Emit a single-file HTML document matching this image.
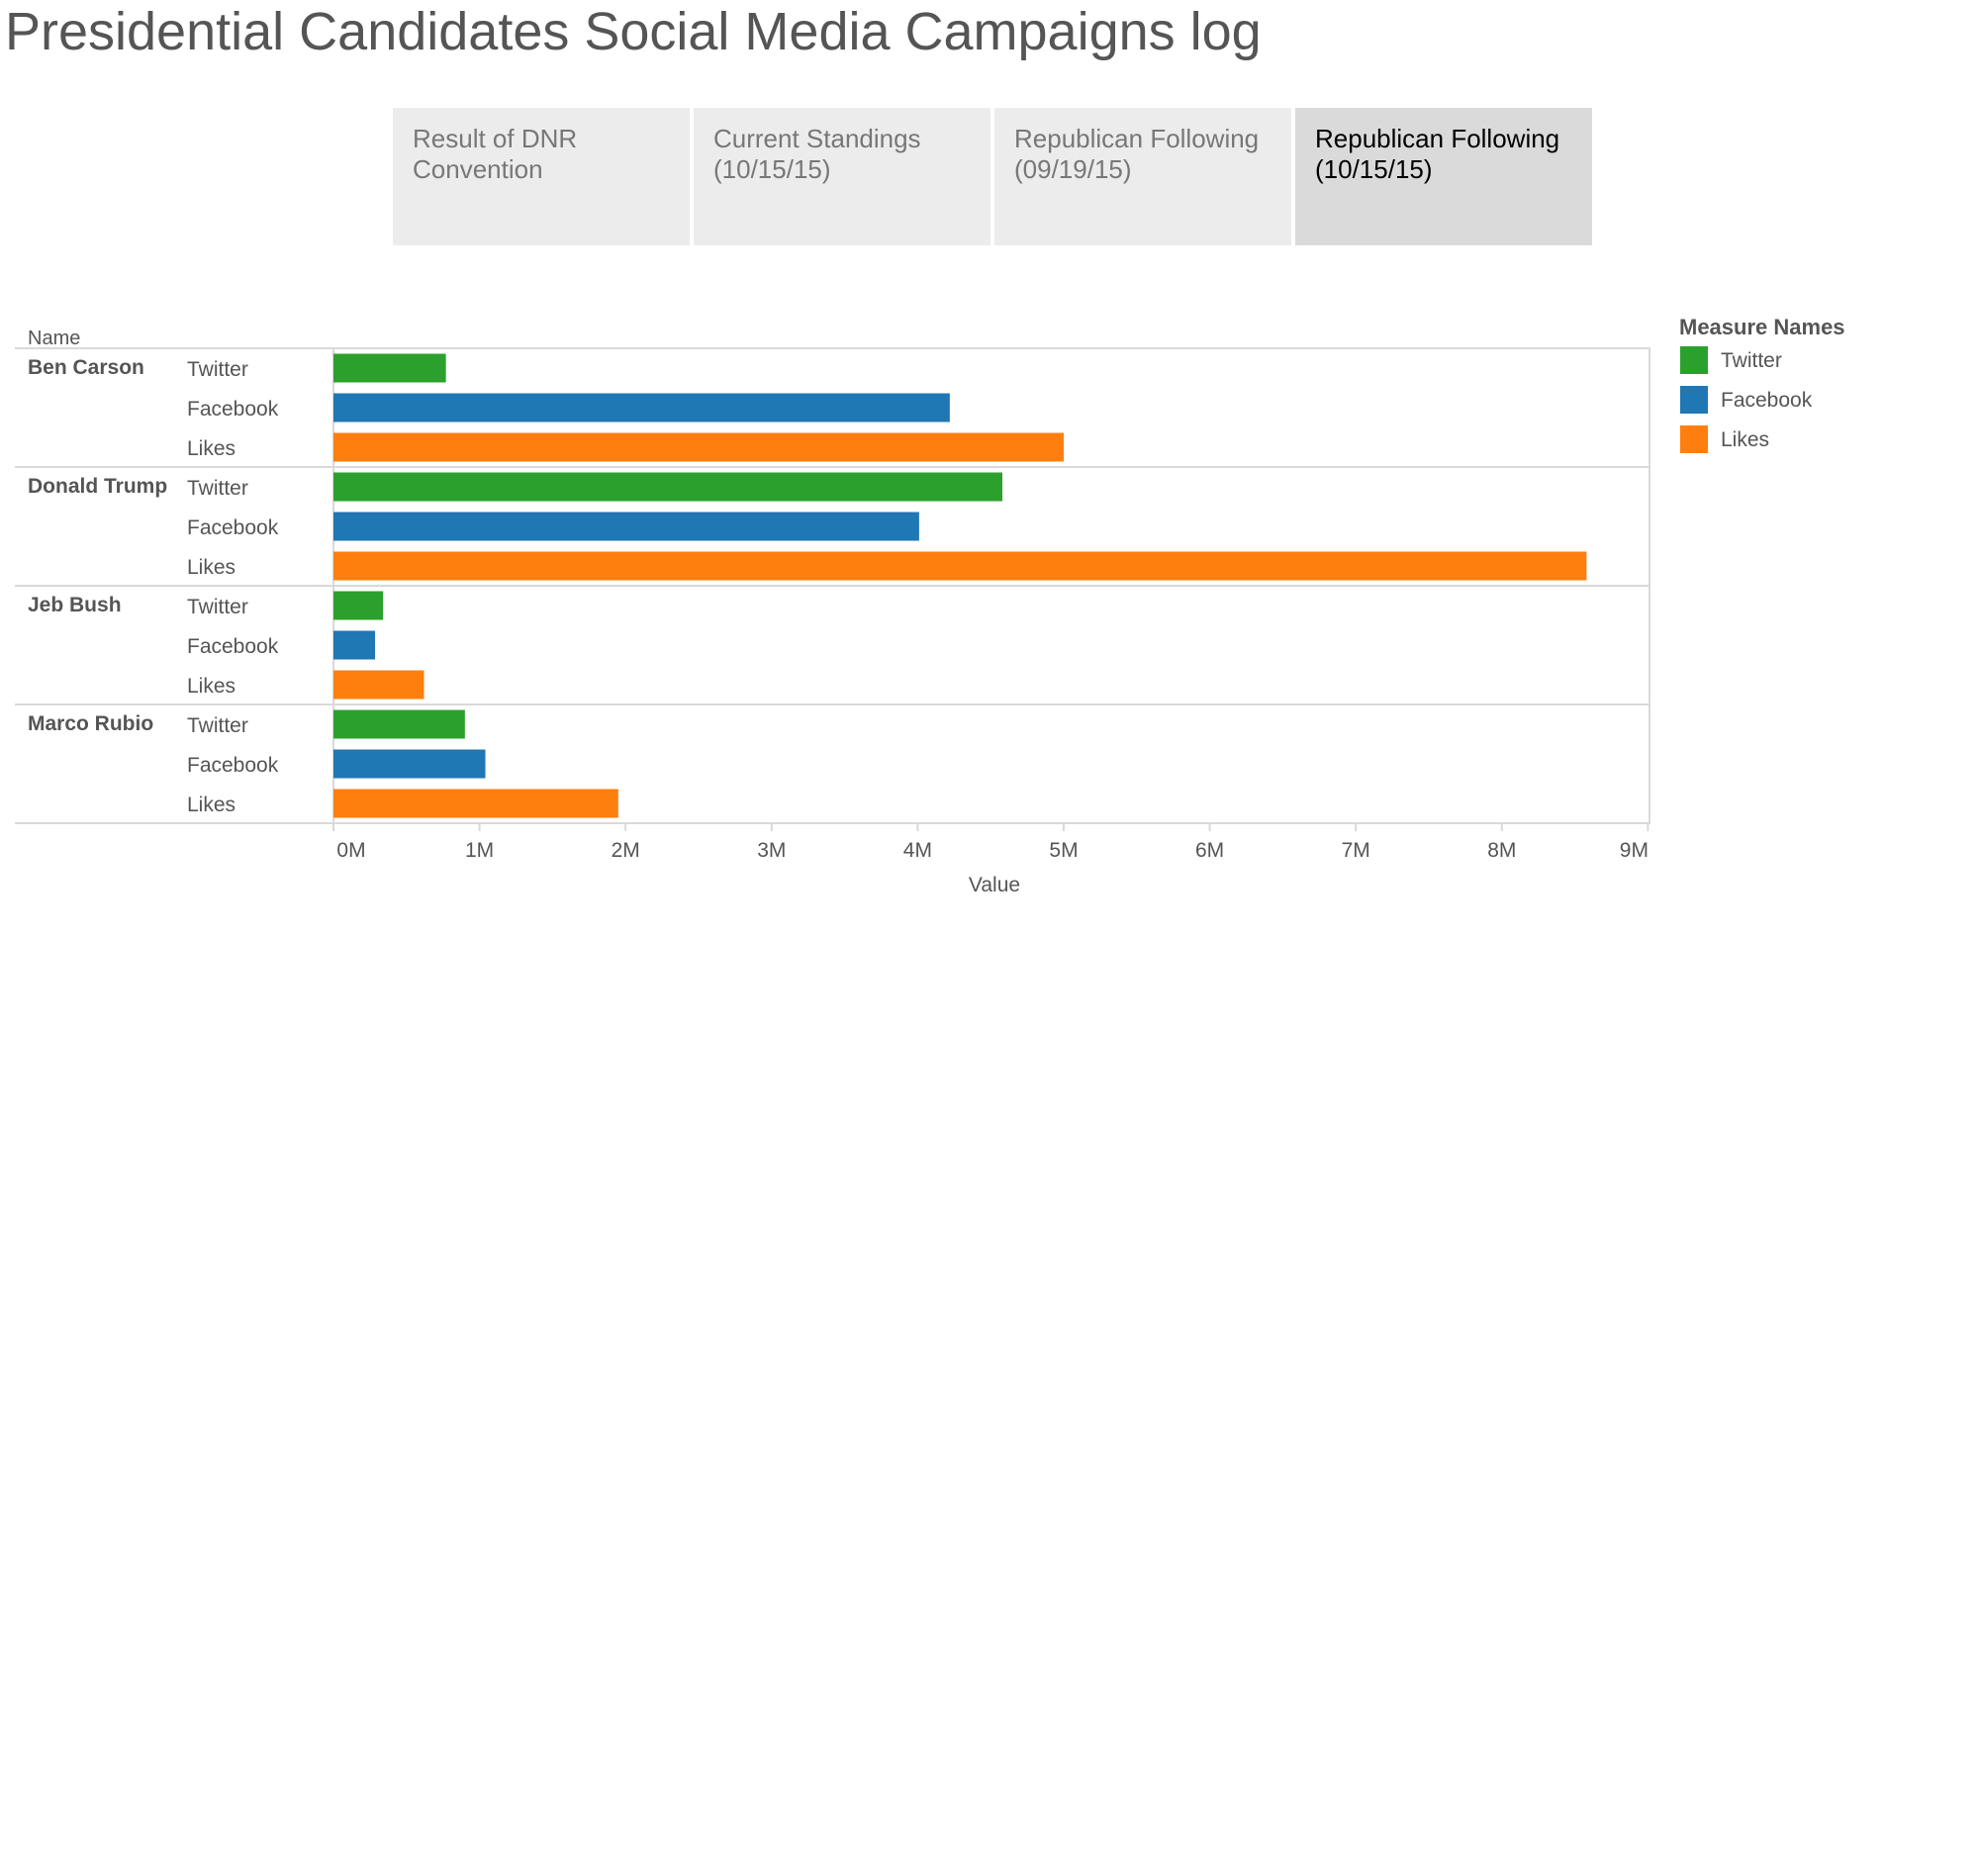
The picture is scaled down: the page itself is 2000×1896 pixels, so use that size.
<!DOCTYPE html>
<html><head><meta charset="utf-8"><style>
body{margin:0;width:2000px;height:1896px;background:#fff;overflow:hidden;font-family:"Liberation Sans",sans-serif;}
.title{position:absolute;left:5px;top:1px;font-size:54px;color:#555;white-space:nowrap;}
.tab{position:absolute;top:109px;width:300px;height:139px;background:#ececec;color:#777;font-size:26px;line-height:31px;box-sizing:border-box;padding:16px 20px;}
.tab.active{background:#dadada;color:#000;}
</style></head><body>
<div class="title">Presidential Candidates Social Media Campaigns log</div>
<div class="tab" style="left:397px">Result of DNR<br>Convention</div>
<div class="tab" style="left:701px">Current Standings<br>(10/15/15)</div>
<div class="tab" style="left:1005px">Republican Following<br>(09/19/15)</div>
<div class="tab active" style="left:1309px">Republican Following<br>(10/15/15)</div>
<svg id="chart" width="2000" height="1896" style="position:absolute;left:0;top:0"></svg>
<script>
const candidates=["Ben Carson","Donald Trump","Jeb Bush","Marco Rubio"];
const measures=["Twitter","Facebook","Likes"];
const twitter=[0.77,4.58,0.34,0.9];
const facebook=[4.22,4.01,0.285,1.04];
const likes=[5.0,8.58,0.62,1.95];
const ticks=[0,1,2,3,4,5,6,7,8,9];
const tickLabels=["0M","1M","2M","3M","4M","5M","6M","7M","8M","9M"];
const colors=["#2ca02c","#1f77b4","#ff7f0e"];
const svg=document.getElementById('chart');
const NS="http://www.w3.org/2000/svg";
const X0=337,PX=147.6,TOP=352,ROW=40,GROUP=120;
const x=v=>X0+v*PX;
function el(t,a,txt){const e=document.createElementNS(NS,t);for(const k in a)e.setAttribute(k,a[k]);if(txt!=null)e.textContent=txt;svg.appendChild(e);return e;}
const series=[twitter,facebook,likes];
let f=el('rect',{x:X0,y:TOP,width:1667-X0,height:GROUP*4,fill:'none',stroke:'#d9d9d9','stroke-width':2});

for(let g=0;g<=4;g++){
 const l=el('line',{x1:15,x2:1667,y1:TOP+g*GROUP,y2:TOP+g*GROUP,stroke:'#d9d9d9','stroke-width':2});
 
 
}
const nh=el('text',{x:28,y:348,'font-size':20,fill:'#555'},'Name');

candidates.forEach((c,i)=>{
 const gy=TOP+i*GROUP;
 const t=el('text',{x:28,y:gy+26,'font-size':21,'font-weight':'bold',fill:'#555'},c);
 
 
 measures.forEach((m,j)=>{
  const cy=gy+20+j*ROW;
  const ml=el('text',{x:189,y:cy+8,'font-size':21,fill:'#555'},m);
  
  
  const v=series[j][i];
  const b=el('rect',{x:x(0),y:cy-14.5,width:x(v)-x(0),height:29,fill:colors[j]});
  
  
 });
});
ticks.forEach((t,i)=>{
 const tx=x(t);
 const tk=el('line',{x1:tx,x2:tx,y1:TOP+GROUP*4,y2:TOP+GROUP*4+8,stroke:'#d9d9d9','stroke-width':2});
 
 
 let cx=tx;if(i===0)cx=tx+18;if(i===ticks.length-1)cx=tx-14;
 const lb=el('text',{x:cx,y:866,'font-size':21,fill:'#555','text-anchor':'middle'},tickLabels[i]);
 
 
});
const vt=el('text',{x:1005,y:901,'font-size':21,fill:'#555','text-anchor':'middle'},'Value');

const lt=el('text',{x:1697,y:338,'font-size':22,'font-weight':'bold',fill:'#555'},'Measure Names');

measures.forEach((m,j)=>{
 const sw=el('rect',{x:1698,y:350+j*40,width:28,height:28,fill:colors[j]});
 
 
 const lbl=el('text',{x:1739,y:371+j*40,'font-size':21,fill:'#555'},m);
 
 
});
</script>
</body></html>
